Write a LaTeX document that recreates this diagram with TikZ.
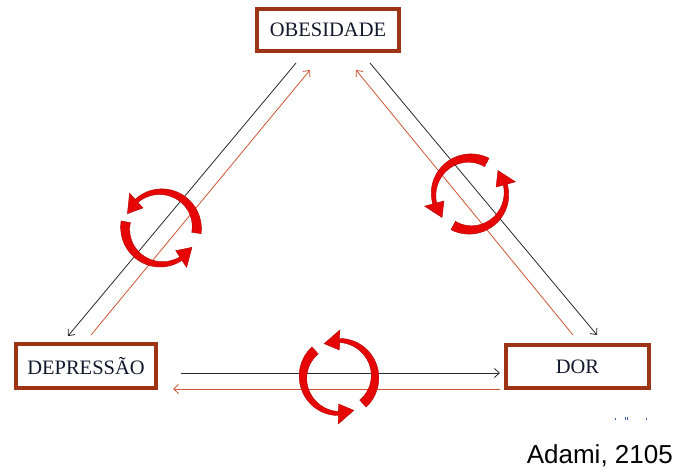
\documentclass[tikz,border=0pt]{standalone}
\usepackage{fontspec}
\setmainfont{Liberation Serif}
\newfontfamily\arialf{Liberation Sans}
\usetikzlibrary{arrows.meta,calc}
\definecolor{boxbrown}{RGB}{158,52,22}
\definecolor{txtnavy}{RGB}{18,24,44}
\definecolor{linebrown}{RGB}{205,85,50}
\definecolor{lineblack}{RGB}{40,40,40}
\definecolor{cyred}{RGB}{230,6,6}
\definecolor{cydark}{RGB}{175,0,0}
\definecolor{dotblue}{RGB}{60,90,170}
\newcommand\hh{25}
\newcommand\cycarr[3]{%
  \pgfmathsetmacro\tA{#2}\pgfmathsetmacro\tN{#2-#3+\hh}\pgfmathsetmacro\tT{#2-#3}%
  \filldraw[cyc, shift={#1}]
    plot[domain=\tA:\tN, samples=40] (\x:{40.5-2*(\x-\tA)/(\tN-\tA)})
    -- (\tN:47) -- (\tT:36.5) -- (\tN:27)
    -- plot[domain=\tN:\tA, samples=40] (\x:{34.5-3.5*(\x-\tN)/(\tA-\tN)}) -- cycle;}
\begin{document}
\begin{tikzpicture}[x=1pt,y=-1pt,
  conbox/.style={draw=boxbrown, line width=3.6pt, inner sep=0pt,
    font=\fontsize{20.5}{24}\selectfont, text=txtnavy},
  blk/.style={draw=lineblack, line width=0.8pt, -{Straight Barb[length=5pt,width=9pt]}},
  brn/.style={draw=linebrown, line width=0.8pt, -{Straight Barb[length=5pt,width=9pt]}},
  cyc/.style={fill=cyred, draw=cydark, line width=0.4pt}]
\useasboundingbox (0,0) rectangle (676,471);

\node[conbox, minimum width=142pt, minimum height=42pt] (obes) at (328,30) {OBESIDADE};
\node[conbox, minimum width=140pt, minimum height=44pt] (depr) at (86,366) {DEPRESSÃO};
\node[conbox, minimum width=143pt, minimum height=43pt] (dor) at (577.5,366.5) {DOR};

% connector end points near the boxes
\coordinate (oL1) at (296,63);
\coordinate (oL2) at (310,70);
\coordinate (oR1) at (370,63);
\coordinate (oR2) at (356,70);
\coordinate (dT1) at (68,336);
\coordinate (dT2) at (91,335);
\coordinate (dR1) at (181,373);
\coordinate (dR2) at (173,389);
\coordinate (rT1) at (597,335);
\coordinate (rT2) at (573,335);
\coordinate (rL1) at (500,373);
\coordinate (rL2) at (500,389);

\draw[blk] (oL1) -- (dT1);
\draw[brn] (dT2) -- (oL2);
\draw[blk] (oR1) -- (rT1);
\draw[brn] (rT2) -- (oR2);
\draw[blk] (dR1) -- (rL1);
\draw[brn] (rL2) -- (dR2);

% cycle arrows
\cycarr{(161,228)}{8}{165}
\cycarr{(161,228)}{190}{158}
\cycarr{(470,194)}{-62}{158}
\cycarr{(470,194)}{118}{158}
\cycarr{(339,377)}{228}{162}
\cycarr{(339,377)}{48}{162}

% tiny marks
\fill[dotblue] (614.5,418) rectangle (615.5,420);
\fill[dotblue] (624.5,417) rectangle (625.5,420);
\fill[dotblue] (627,417) rectangle (628,420);
\fill[dotblue] (645.5,418) rectangle (646.5,420);

\node[anchor=base east, inner sep=0pt, font=\arialf\fontsize{26}{30}\selectfont] (src) at (673,463) {Adami, 2105};
\end{tikzpicture}
\end{document}
